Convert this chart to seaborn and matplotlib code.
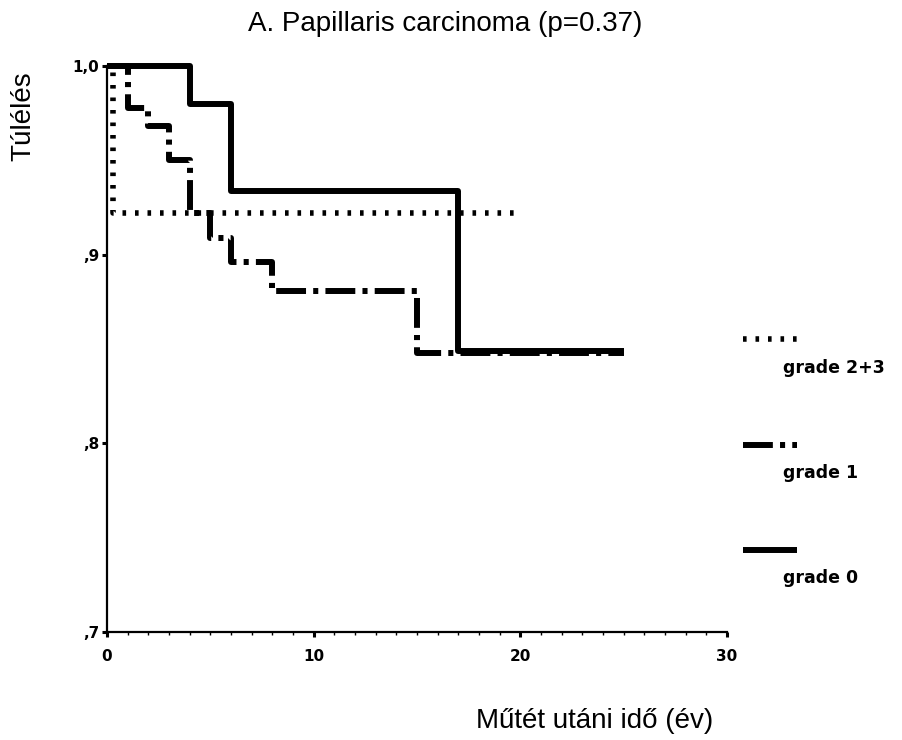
import matplotlib
matplotlib.use("Agg")
import matplotlib.pyplot as plt
import seaborn as sns
import pandas as pd
from matplotlib.lines import Line2D
from matplotlib.ticker import MultipleLocator, FixedLocator

# ---- data ----
g0_time = [0, 4, 6, 17, 25]
g0_surv = [1.0, 0.980, 0.934, 0.849, 0.849]

g1_time = [0, 1, 2, 3, 4, 5, 6, 8, 15, 25]
g1_surv = [1.0, 0.978, 0.968, 0.950, 0.922, 0.909, 0.896, 0.881, 0.848, 0.848]

g23_time = [0, 0.3, 20]
g23_surv = [1.0, 0.922, 0.922]

group_labels = ["grade 2+3", "grade 1", "grade 0"]
y_ticks = [0.7, 0.8, 0.9, 1.0]
y_ticklabels = [",7", ",8", ",9", "1,0"]
x_ticks = [0, 10, 20, 30]
x_ticklabels = ["0", "10", "20", "30"]

title = "A. Papillaris carcinoma (p=0.37)"
ylabel = "Túlélés"
xlabel = "Műtét utáni idő (év)"

sns.set_style("white")
plt.rcParams["font.family"] = ["Liberation Sans", "DejaVu Sans"]
plt.rcParams["text.color"] = "black"
plt.rcParams["xtick.color"] = "black"
plt.rcParams["ytick.color"] = "black"
plt.rcParams["xtick.labelcolor"] = "black"
plt.rcParams["ytick.labelcolor"] = "black"

fig = plt.figure(figsize=(9.02, 7.40), dpi=100)
ax = fig.add_axes([107 / 902, 1 - 632 / 740, (727 - 107) / 902, (632 - 66) / 740])

styles = {
    "grade 2+3": dict(lw=4.0, dashes=(0.65, 1.6)),
    "grade 1": dict(lw=4.3, dashes=(5.0, 1.2, 0.85, 1.2)),
    "grade 0": dict(lw=4.3, dashes=None),
}
series = {
    "grade 2+3": (g23_time, g23_surv),
    "grade 1": (g1_time, g1_surv),
    "grade 0": (g0_time, g0_surv),
}

for name in group_labels:
    t, s = series[name]
    df = pd.DataFrame({"t": t, "s": s})
    st = styles[name]
    sns.lineplot(data=df, x="t", y="s", color="black", lw=st["lw"],
                 drawstyle="steps-post", estimator=None, sort=False, ax=ax,
                 legend=False)
    ln = ax.lines[-1]
    ln.set_clip_on(False)
    ln.set_solid_capstyle("butt")
    ln.set_dash_capstyle("butt")
    if st["dashes"] is not None:
        ln.set_dashes(st["dashes"])
    else:
        ln.set_linestyle("-")

ax.set_xlim(0, 30)
ax.set_ylim(0.7, 1.0)
for sp in ["top", "right"]:
    ax.spines[sp].set_visible(False)
for sp in ["left", "bottom"]:
    ax.spines[sp].set_linewidth(1.6)
    ax.spines[sp].set_color("black")

ax.xaxis.set_major_locator(FixedLocator(x_ticks))
ax.xaxis.set_minor_locator(MultipleLocator(1))
ax.yaxis.set_major_locator(FixedLocator(y_ticks))
ax.set_xticklabels(x_ticklabels)
ax.set_yticklabels(y_ticklabels)
ax.tick_params(axis="both", which="major", direction="out", length=3.5, width=2.2,
               color="black", labelcolor="black", labelsize=11, bottom=True, left=True)
ax.tick_params(axis="x", which="major", pad=8.5)
ax.tick_params(axis="y", which="major", pad=2)
ax.tick_params(axis="x", which="minor", direction="out", length=2.5, width=1,
               color="black", bottom=True)
for lab in ax.get_xticklabels() + ax.get_yticklabels():
    lab.set_fontweight("heavy")
    lab.set_family("DejaVu Sans")

ax.set_xlabel("")
ax.set_ylabel("")

fig.text(445 / 902, 1 - 24 / 740, title, ha="center", va="center", fontsize=20, color="black")
fig.text(23 / 902, 1 - 116 / 740, ylabel, ha="center", va="center", rotation=90,
         fontsize=20, color="black")
fig.text(595 / 902, 1 - 721 / 740, xlabel, ha="center", va="center", fontsize=20, color="black")

# legend (manual, as in the reference layout)
leg_y_line = [339, 445, 550]
leg_y_text = [368, 473, 578]
for name, yl, yt in zip(group_labels, leg_y_line, leg_y_text):
    st = styles[name]
    l = Line2D([743 / 902, 797 / 902], [1 - yl / 740, 1 - yl / 740], transform=fig.transFigure,
               color="black", lw=st["lw"], solid_capstyle="butt", dash_capstyle="butt")
    if st["dashes"] is not None:
        l.set_dashes(st["dashes"])
    fig.add_artist(l)
    fig.text(783 / 902, 1 - yt / 740, name, ha="left", va="center", fontsize=12.5,
             fontweight="heavy", family="DejaVu Sans", color="black")

fig.savefig("out.png", dpi=100)
